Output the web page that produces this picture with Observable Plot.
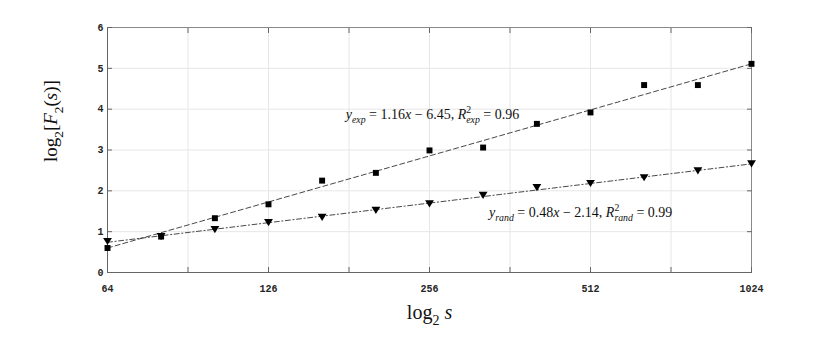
<!DOCTYPE html>
<html><head><meta charset="utf-8">
<script src="https://cdn.jsdelivr.net/npm/d3@7"></script>
<script src="https://cdn.jsdelivr.net/npm/@observablehq/plot@0.6"></script>
<style>body{margin:0;background:#fff}#chart svg{display:block}</style>
</head><body><div id="chart"></div>
<script>
// ---- data ----
const xLog2 = [6, 6.333, 6.667, 7, 7.333, 7.667, 8, 8.333, 8.667, 9, 9.333, 9.667, 10];
const expValues = [0.60, 0.88, 1.33, 1.67, 2.25, 2.44, 2.99, 3.06, 3.64, 3.92, 4.59, 4.59, 5.11];
const randValues = [0.76, 0.88, 1.05, 1.22, 1.35, 1.52, 1.68, 1.89, 2.08, 2.18, 2.32, 2.49, 2.66];
const xTickValues = [6, 7, 8, 9, 10];
const xTickLabels = ["64", "126", "256", "512", "1024"];
const xGridValues = [6, 6.5, 7, 7.5, 8, 8.5, 9, 9.5, 10];
const yTickValues = [0, 1, 2, 3, 4, 5, 6];
const fitSlopes = [1.16, 0.48];
const fitIntercepts = [-6.45, -2.14];
const fitR2 = [0.96, 0.99];
const xDomain = [6, 10];
// fitted lines as drawn in the picture (values at x = 6 and x = 10)
const expFitEnds = [0.60, 5.11];
const randFitEnds = [0.74, 2.66];

const expData = xLog2.map((x, i) => ({x, y: expValues[i]}));
const randData = xLog2.map((x, i) => ({x, y: randValues[i]}));
const expFit = xDomain.map((x, i) => ({x, y: expFitEnds[i]}));
const randFit = xDomain.map((x, i) => ({x, y: randFitEnds[i]}));

const fmt = v => v.toFixed(2);
const label1 = `yexp = ${fmt(fitSlopes[0])}x − ${fmt(-fitIntercepts[0])}, R2exp = ${fmt(fitR2[0])}`;
const label2 = `yrand = ${fmt(fitSlopes[1])}x − ${fmt(-fitIntercepts[1])}, R2rand = ${fmt(fitR2[1])}`;
const xLabel = "log2 s";
const yLabel = "log2[F2(s)]";

const squareSym = {draw(ctx, size) { const r = Math.sqrt(size / Math.PI); const h = r * 0.9; ctx.moveTo(-h, -h); ctx.lineTo(h, -h); ctx.lineTo(h, h); ctx.lineTo(-h, h); ctx.closePath(); }};
const triDownSym = {draw(ctx, size) { const r = Math.sqrt(size / Math.PI); ctx.moveTo(-r * 1.05, -r * 0.85); ctx.lineTo(r * 1.05, -r * 0.85); ctx.lineTo(0, r * 0.85); ctx.closePath(); }};

const serif = "'Liberation Serif', 'DejaVu Serif', serif";
const mono = "'Liberation Mono', 'DejaVu Sans Mono', monospace";
const annFS = 14, xLabFS = 20, yLabFS = 19;

const plot = Plot.plot({
  width: 830, height: 358,
  marginLeft: 107, marginRight: 79, marginTop: 27, marginBottom: 86,
  x: {domain: xDomain},
  y: {domain: [0, 6]},
  style: {background: "#fff"},
  marks: [
    Plot.gridX(xGridValues, {stroke: "#e6e6e6", strokeOpacity: 1}),
    Plot.gridY(yTickValues, {stroke: "#e6e6e6", strokeOpacity: 1}),
    Plot.frame({stroke: "#8a8a8a"}),
    Plot.axisX(xGridValues, {anchor: "bottom", tickSize: -5, tickFormat: () => "", stroke: "#666", label: null}),
    Plot.axisX(xGridValues, {anchor: "top", tickSize: -5, tickFormat: () => "", stroke: "#666", label: null}),
    Plot.axisX(xTickValues, {anchor: "bottom", tickSize: 0, tickPadding: 12, tickFormat: (d, i) => xTickLabels[i], fill: "#262626", fontFamily: mono, fontWeight: "bold", fontSize: 10, label: null}),
    Plot.axisY(yTickValues, {anchor: "left", tickSize: -5, tickPadding: 9, stroke: "#666", fill: "#262626", fontFamily: mono, fontWeight: "bold", fontSize: 10, label: null}),
    Plot.axisY(yTickValues, {anchor: "right", tickSize: -5, tickFormat: () => "", stroke: "#666", label: null}),
    Plot.ruleY([0], {stroke: "#666"}),
    Plot.ruleX([6], {stroke: "#666"}),
    Plot.line(expFit, {x: "x", y: "y", stroke: "#333", strokeWidth: 0.9, strokeDasharray: "5,3"}),
    Plot.line(randFit, {x: "x", y: "y", stroke: "#333", strokeWidth: 0.9, strokeDasharray: "5,2.5,1.2,2.5"}),
    Plot.dot(expData, {x: "x", y: "y", symbol: squareSym, r: 3.3, fill: "#000", stroke: null}),
    Plot.dot(randData, {x: "x", y: "y", symbol: triDownSym, r: 4.2, fill: "#000", stroke: null}),
    Plot.text([label1], {x: 7.48, y: 3.87, text: d => d, textAnchor: "start", fontFamily: serif, fontSize: annFS, fill: "#111"}),
    Plot.text([label2], {x: 8.37, y: 1.47, text: d => d, textAnchor: "start", fontFamily: serif, fontSize: annFS, fill: "#111"}),
    Plot.text([xLabel], {frameAnchor: "bottom", dy: 46, text: d => d, fontFamily: serif, fontSize: xLabFS, fill: "#111"}),
    Plot.text([yLabel], {frameAnchor: "left", dx: -57, dy: 12, rotate: -90, text: d => d, fontFamily: serif, fontSize: yLabFS, fill: "#111"})
  ]
});

function setRich(svg, key, segs, fs) {
  svg.querySelectorAll("text").forEach(el => {
    if (el.textContent !== key) return;
    while (el.firstChild) el.removeChild(el.firstChild);
    let cur = 0;
    for (const s of segs) {
      const ts = document.createElementNS("http://www.w3.org/2000/svg", "tspan");
      const target = s.sub ? 0.32 * fs : s.sup ? -0.42 * fs : 0;
      if (target !== cur) { ts.setAttribute("dy", target - cur); cur = target; }
      if (s.dx) ts.setAttribute("dx", s.dx * fs);
      if (s.sub || s.sup) ts.setAttribute("font-size", 0.7 * fs);
      if (s.i) ts.setAttribute("font-style", "italic");
      ts.textContent = s.t;
      el.appendChild(ts);
    }
  });
}
const eqSegs = (name, k) => [
  {t: "y", i: true}, {t: name, i: true, sub: true},
  {t: ` = ${fmt(fitSlopes[k])}`}, {t: "x", i: true}, {t: ` − ${fmt(-fitIntercepts[k])}, `},
  {t: "R", i: true}, {t: "2", sup: true}, {t: name, i: true, sub: true, dx: -0.35},
  {t: ` = ${fmt(fitR2[k])}`}
];
setRich(plot, label1, eqSegs("exp", 0), annFS);
setRich(plot, label2, eqSegs("rand", 1), annFS);
setRich(plot, xLabel, [{t: "log"}, {t: "2", sub: true}, {t: " "}, {t: "s", i: true}], xLabFS);
setRich(plot, yLabel, [{t: "log"}, {t: "2", sub: true}, {t: "["}, {t: "F", i: true}, {t: "2", sub: true}, {t: "("}, {t: "s", i: true}, {t: ")]"}], yLabFS);

document.getElementById("chart").appendChild(plot);
</script>
</body></html>
